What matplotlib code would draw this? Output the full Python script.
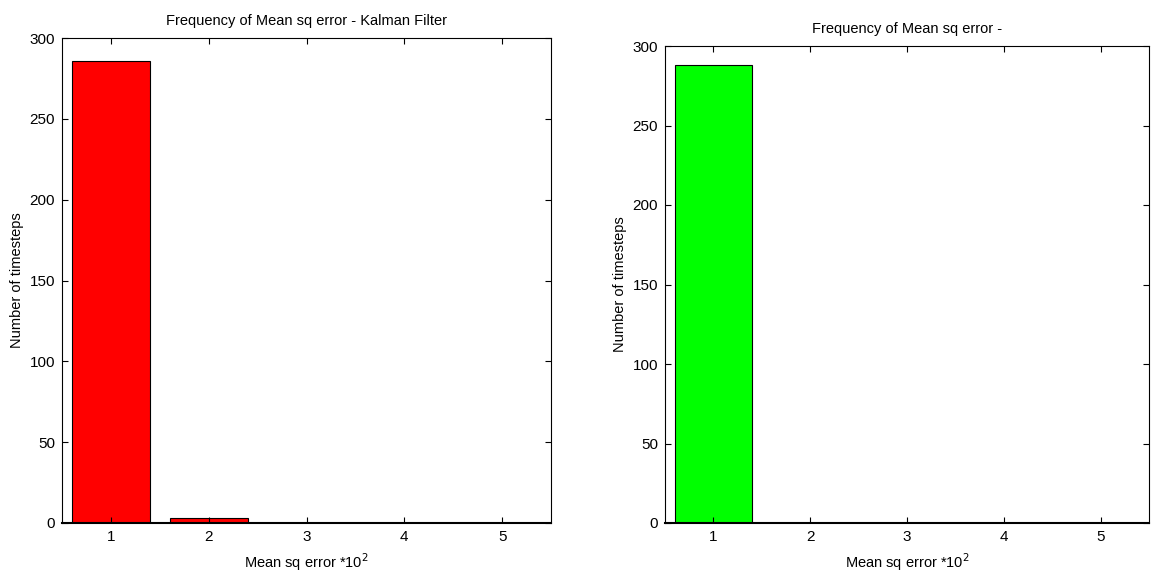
import numpy as np
import matplotlib
matplotlib.use("Agg")
import matplotlib.pyplot as plt

plt.rcParams["font.family"] = ["Liberation Sans", "DejaVu Sans"]

# Dados dos histogramas
bins = [1, 2, 3, 4, 5]
kalman_counts = [286, 3, 0, 0, 0]
other_counts = [288, 0, 0, 0, 0]
yticks = [0, 50, 100, 150, 200, 250, 300]

fig = plt.figure(figsize=(11.51, 5.81), dpi=100)
W, H = 1151, 581

def make_axes(left, right, top, bottom):
    return fig.add_axes([left / W, 1 - bottom / H, (right - left) / W, (bottom - top) / H])

ax1 = make_axes(62, 551, 38, 523)
ax2 = make_axes(665, 1149, 46, 523)

for ax, counts, color, title in [
    (ax1, kalman_counts, "#ff0000", "Frequency of Mean sq error - Kalman Filter"),
    (ax2, other_counts, "#00ff00", "Frequency of Mean sq error -"),
]:
    ax.bar(bins, counts, width=0.8, color=color, edgecolor="black", linewidth=0.8)
    ax.set_xlim(0.5, 5.5)
    ax.set_ylim(0, 300)
    ax.set_xticks(bins)
    ax.set_yticks(yticks)
    ax.tick_params(direction="in", length=4, width=0.8, labelsize=11,
                   top=True, right=True, pad=5)
    for s in ax.spines.values():
        s.set_linewidth(0.8)
    ax.spines["bottom"].set_linewidth(1.5)
    ax.set_title(title, fontsize=10.5, pad=9)
    ax.set_xlabel("Mean sq error *10$^2$", fontsize=10.5, labelpad=5)
    ax.set_ylabel("Number of timesteps", fontsize=10.5, labelpad=4)

fig.savefig("out.png", dpi=100)
